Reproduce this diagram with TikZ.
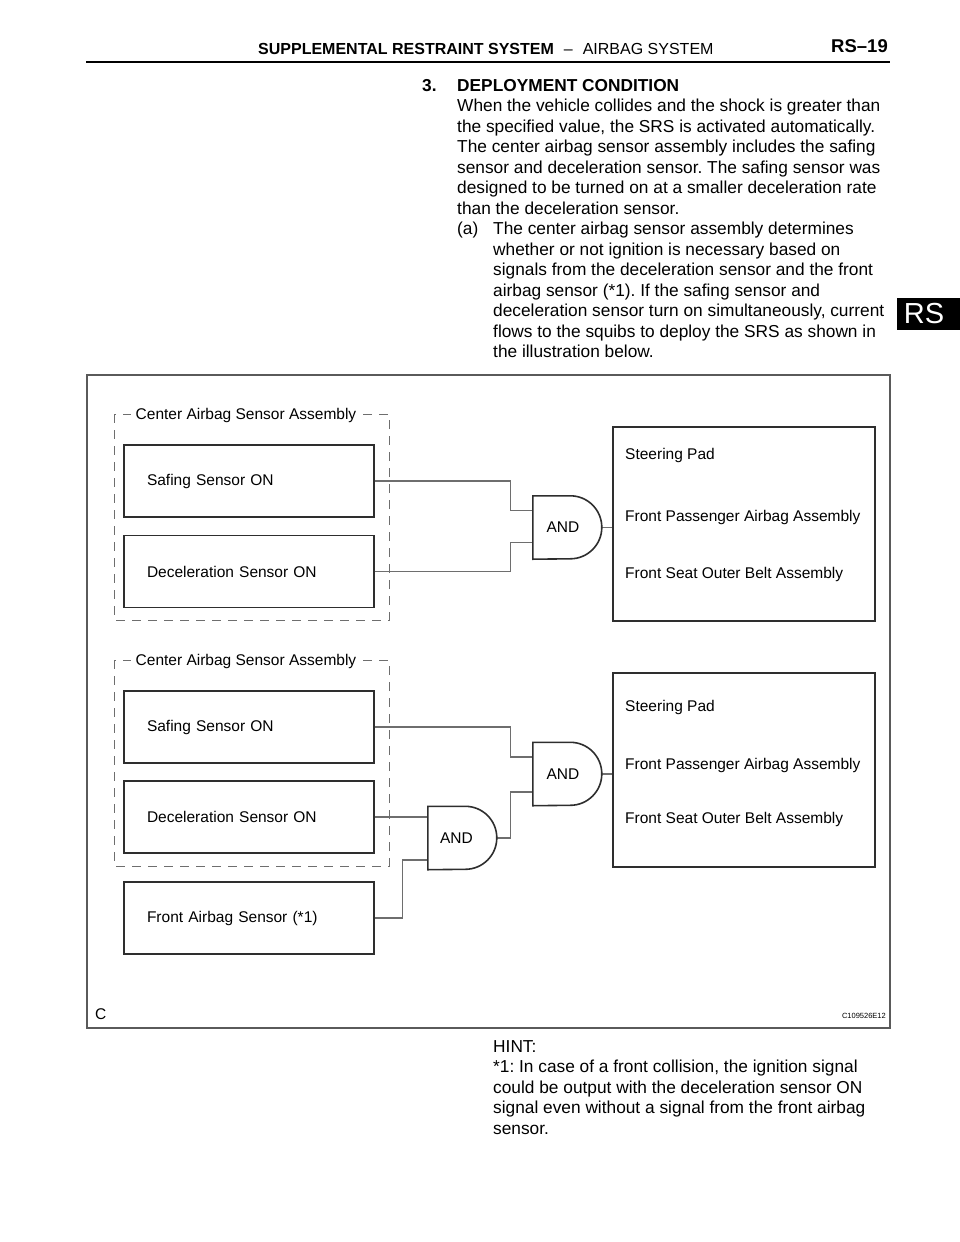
\documentclass[tikz,border=0pt]{standalone}
\usepackage{fontspec}
\setmainfont{Liberation Sans}
\frenchspacing
\newcommand\bodyfont{\fontsize{17.3}{20.5}\selectfont}
\newcommand\diagfont{\fontsize{15.5}{18}\selectfont}
\definecolor{boxc}{HTML}{2E2E2E}
\definecolor{wirec}{HTML}{6E6E6E}
\definecolor{framec}{HTML}{5A5A5A}

\begin{document}
\begin{tikzpicture}[x=1pt,y=1pt,
    txt/.style={anchor=base west, inner sep=0pt, font=\bodyfont},
    sbox/.style={draw=boxc, line width=1.6pt, minimum height=72pt, text width=204pt, inner xsep=23pt, align=left, font=\diagfont},
    obox/.style={draw=boxc, line width=1.6pt, minimum width=262pt, minimum height=194pt},
    otxt/.style={anchor=west, inner sep=0pt, font=\diagfont},
    gate/.style={minimum width=69pt, minimum height=63pt, inner sep=0pt, font=\diagfont},
    gline/.style={draw=boxc, line width=1.6pt},
    wire/.style={draw=wirec, line width=1.1pt},
    grpbox/.style={draw=wirec, line width=1pt, dash pattern=on 9pt off 7pt},
    grp/.style={fill=white, inner xsep=5pt, inner ysep=1pt, font=\diagfont}]
  \useasboundingbox (0,0) rectangle (960,-1242);
  % page head
  \node[anchor=base west, inner sep=0pt, font=\fontsize{16}{19}\selectfont] (hdr) at (258,-54)
    {\textbf{SUPPLEMENTAL RESTRAINT SYSTEM}\hspace{10pt}--\hspace{10pt}AIRBAG SYSTEM};
  \node[anchor=base east, inner sep=0pt, font=\fontsize{18.5}{20}\selectfont\bfseries] (pg) at (888,-52) {RS--19};
  \draw[line width=2.5pt] (86,-62) -- (890,-62);
  \fill (897,-298) rectangle (960,-330);
  \node[white, inner sep=0pt, font=\fontsize{29}{30}\selectfont] (tab) at (924,-314) {RS};
  % text
  \node[txt] (num) at (422,-91) {\textbf{3.}};
  \node[txt] (head) at (457,-91) {\textbf{DEPLOYMENT CONDITION}};
  \foreach \t [count=\i] in {{When the vehicle collides and the shock is greater than},
      {the specified value, the SRS is activated automatically.},
      {The center airbag sensor assembly includes the safing},
      {sensor and deceleration sensor. The safing sensor was},
      {designed to be turned on at a smaller deceleration rate},
      {than the deceleration sensor.}}
    \node[txt] (p\i) at (457,-91-20.5*\i) {\t};
  \node[txt] (a) at (457,-234.5) {(a)};
  \foreach \t [count=\i from 7] in {{The center airbag sensor assembly determines},
      {whether or not ignition is necessary based on},
      {signals from the deceleration sensor and the front},
      {airbag sensor (*1). If the safing sensor and},
      {deceleration sensor turn on simultaneously, current},
      {flows to the squibs to deploy the SRS as shown in},
      {the illustration below.}}
    \node[txt] (q\i) at (493,-91-20.5*\i) {\t};
  % illustration
  \draw[draw=framec, line width=1.2pt] (87,-375) rectangle (890,-1028);
  \node[anchor=west, inner sep=0pt, font=\diagfont] (fig) at (95,-1014) {C};
  \node[anchor=east, inner sep=0pt, font=\fontsize{7.5}{9}\selectfont] (code) at (886,-1016) {C109526E12};
  % upper case
  \draw[grpbox] (114,-414) rectangle (389,-620);
  \node[grp] (grp1) at (246,-415) {Center Airbag Sensor Assembly};
  \node[sbox] (saf1) at (249,-481) {Safing Sensor ON};
  \node[sbox] (dec1) at (249,-571.5) {Deceleration Sensor ON};
  \node[gate] (and1) at (567.5,-527.5) {AND\kern9pt};
  \node[obox] (out1) at (744,-524) {};
  \node[otxt] (st1) at (625,-455) {Steering Pad};
  \node[otxt] (pa1) at (625,-517) {Front Passenger Airbag Assembly};
  \node[otxt] (sb1) at (625,-574) {Front Seat Outer Belt Assembly};
  \draw[wire] (saf1.east) -- ++(136,0) |- ([yshift=17]and1.west);
  \draw[wire] (dec1.east) -- ++(136,0) |- ([yshift=-15]and1.west);
  \draw[wire] (and1.east) -- (and1.east -| out1.west);
  % lower case
  \draw[grpbox] (114,-660) rectangle (389,-866);
  \node[grp] (grp2) at (246,-661) {Center Airbag Sensor Assembly};
  \node[sbox] (saf2) at (249,-727) {Safing Sensor ON};
  \node[sbox] (dec2) at (249,-817) {Deceleration Sensor ON};
  \node[sbox] (fab) at (249,-918) {Front Airbag Sensor (*1)};
  \node[gate] (and2) at (567.5,-774) {AND\kern9pt};
  \node[gate] (and3) at (462.5,-838) {AND\kern12pt};
  \node[obox] (out2) at (744,-770) {};
  \node[otxt] (st2) at (625,-707) {Steering Pad};
  \node[otxt] (pa2) at (625,-765) {Front Passenger Airbag Assembly};
  \node[otxt] (sb2) at (625,-819) {Front Seat Outer Belt Assembly};
  \draw[wire] (saf2.east) -- ++(136,0) |- ([yshift=17]and2.west);
  \draw[wire] (dec2.east) -- (dec2.east -| and3.west);
  \draw[wire] (fab.east) -- ++(28,0) |- ([yshift=-22]and3.west);
  \draw[wire] (and3.east) -- ++(13,0) |- ([yshift=-18]and2.west);
  \draw[wire] (and2.east) -- (and2.east -| out2.west);
  \foreach \g in {and1,and2,and3}
    \draw[gline] (\g.north west) -- ++(37.5,0) arc[start angle=90, end angle=-90, radius=31.5] -- (\g.south west) -- cycle;
  % hint
  \foreach \t [count=\i from 0] in {{HINT:},
      {*1: In case of a front collision, the ignition signal},
      {could be output with the deceleration sensor ON},
      {signal even without a signal from the front airbag},
      {sensor.}}
    \node[txt] (h\i) at (493,-1052-20.5*\i) {\t};
\end{tikzpicture}
\end{document}
